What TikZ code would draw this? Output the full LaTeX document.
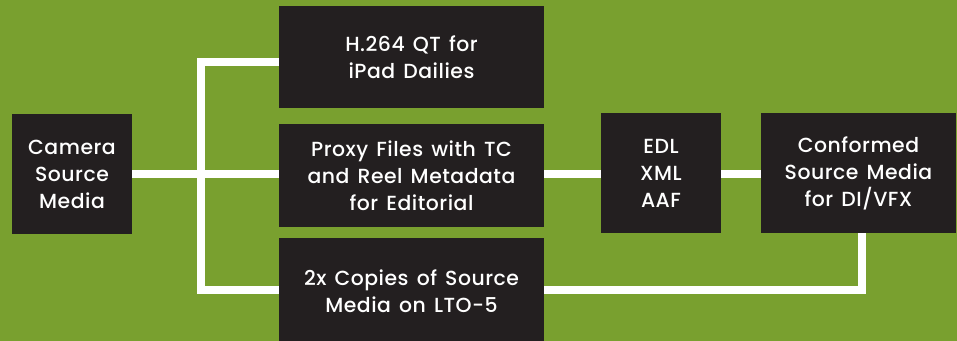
\documentclass[tikz,border=0pt]{standalone}
\usepackage{fontspec}
\setmainfont{Poppins}[UprightFont=* Medium,LetterSpace=2.5,WordSpace=1.4]
\definecolor{bggreen}{HTML}{79A02F}
\definecolor{boxdark}{HTML}{231F20}
\begin{document}
\begin{tikzpicture}[x=0.75pt,y=-0.75pt,
  blk/.style={fill=boxdark,draw=none,text=white,align=center,inner sep=0pt,
    font=\fontsize{15.3}{20.25}\selectfont},
  wire/.style={draw=white,line width=6pt,line join=miter}]
\fill[bggreen] (0,0) rectangle (957,341);
\useasboundingbox (0,0) rectangle (957,341);
\node[blk,minimum width=90pt,minimum height=90pt] (cam) at (72,174) {Camera\\Source\\Media};
\node[blk,minimum width=198.75pt,minimum height=76.5pt] (h264) at (411.5,57) {H.264 QT for\\iPad Dailies};
\node[blk,minimum width=198.75pt,minimum height=77.25pt] (proxy) at (411.5,175.5) {Proxy Files with TC\\and Reel Metadata\\for Editorial};
\node[blk,minimum width=198.75pt,minimum height=80pt] (lto) at (411.5,291) {2x Copies of Source\\Media on LTO-5};
\node[blk,minimum width=90pt,minimum height=90pt] (edl) at (661,173) {EDL\\XML\\AAF};
\node[blk,minimum width=146.25pt,minimum height=90pt] (conf) at (858.5,173) {Conformed\\Source Media\\for DI/VFX};
\coordinate (jt) at (201,62);
\coordinate (jb) at (201,290);
\coordinate (jr) at (862,290);
\draw[wire] (cam.east |- 0,174) -- (proxy.west |- 0,174);
\draw[wire] (h264.west |- jt) -- (jt) -- (jb) -- (lto.west |- jb);
\draw[wire] (proxy.east |- 0,174) -- (edl.west |- 0,174);
\draw[wire] (edl.east |- 0,174) -- (conf.west |- 0,174);
\draw[wire] (lto.east |- jr) -- (jr) -- (conf.south -| jr);
\end{tikzpicture}
\end{document}
